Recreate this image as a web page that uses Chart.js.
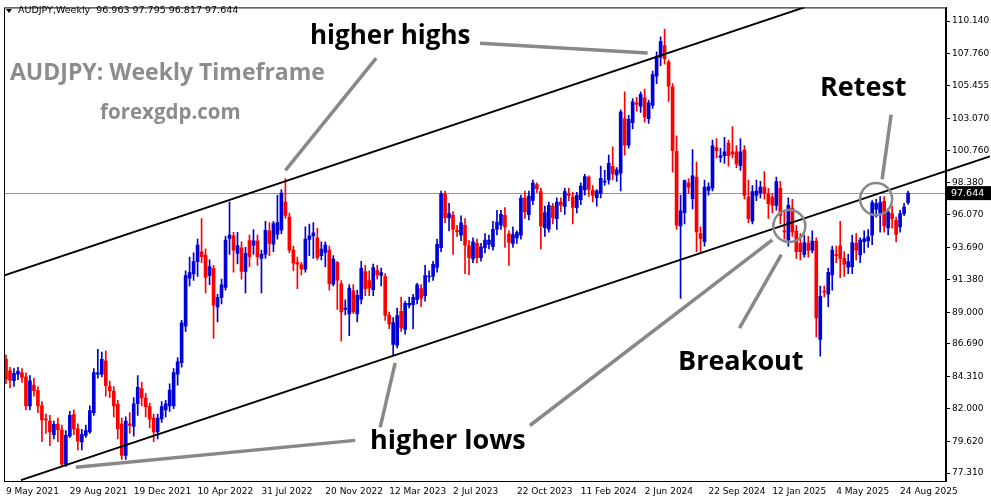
<!DOCTYPE html>
<html><head><meta charset="utf-8">
<script src="https://cdn.jsdelivr.net/npm/chart.js@4/dist/chart.umd.min.js"></script>
<style>html,body{margin:0;padding:0;background:#fff}#wrap{width:991px;height:501px}</style>
</head><body><div id="wrap"><canvas id="c"></canvas></div>
<script>
const tickLabels = ["9 May 2021","29 Aug 2021","19 Dec 2021","10 Apr 2022","31 Jul 2022","20 Nov 2022","12 Mar 2023","2 Jul 2023","22 Oct 2023","11 Feb 2024","2 Jun 2024","22 Sep 2024","12 Jan 2025","4 May 2025","24 Aug 2025"];
const tickStep = 16;
const slots = 236;
const yTicks = [77.310,79.620,82.000,84.310,86.690,89.000,91.380,93.690,96.070,98.380,100.760,103.070,105.455,107.760,110.140];
const lastPrice = 97.644;

const O = [85.58,84.74,84.02,84.5,84.6,84.3,82.2,83.7,83.3,82.2,81.2,81.1,80.1,80.85,80.46,77.96,80.0,81.57,80.53,79.57,80.05,80.3,81.7,84.5,84.5,85.46,83.6,83.25,82.3,80.9,78.6,80.9,80.7,82.35,83.45,82.77,82.14,81.3,80.3,81.25,81.9,82.2,82.2,84.5,85.34,87.98,91.47,91.78,92.67,93.39,93.15,91.66,92.19,89.38,90.07,90.8,94.35,94.54,93.27,93.68,
91.95,94.2,93.87,94.18,92.9,93.2,94.9,93.94,94.66,94.95,
97.0,95.91,93.51,92.6,92.43,92.12,94.28,94.54,94.4,93.1,
93.34,93.51,91.04,92.6,91.06,89.2,88.87,90.55,88.87,89.95,
91.95,91.3,90.63,92.02,91.66,91.59,88.78,86.66,86.61,89.06,
87.74,89.5,89.55,89.9,90.72,90.2,91.55,91.59,92.24,93.68,
97.59,95.84,96.03,94.95,94.59,95.31,93.82,92.86,93.99,92.96,
93.68,93.92,93.75,95.02,95.31,96.03,94.69,93.99,94.4,94.59,
97.28,96.08,97.12,98.27,97.76,95.14,95.02,96.71,95.79,96.99,
96.68,97.6,97.36,96.59,97.16,97.88,98.8,97.84,97.31,97.6,
98.44,98.6,99.59,98.97,99.09,103.05,101.13,102.76,104.2,103.96,
104.57,103.05,104.01,106.13,107.52,108.36,107.16,105.36,100.67,95.26,
96.23,98.37,97.24,98.8,94.71,94.11,97.84,98.0,100.96,100.24,
100.36,101.27,100.65,100.65,99.64,100.79,97.36,95.6,97.48,97.67,
98.08,97.6,97.36,96.75,98.0,94.9,94.23,96.56,94.88,93.99,
93.2,93.99,93.51,94.16,87.02,90.5,90.31,91.71,93.15,93.82,
92.91,92.26,92.31,93.99,93.15,94.11,94.18,94.59,96.47,96.23,
97.04,95.12,96.15,95.67,95.19,96.15,96.963];
const C = [84.14,84.07,84.55,84.7,84.26,82.2,84.02,83.3,82.2,81.18,81.18,80.3,80.85,80.46,77.96,80.05,81.5,80.53,79.64,80.12,80.41,81.85,84.62,84.6,85.58,83.66,83.3,82.2,80.53,78.6,81.1,80.77,82.35,83.54,82.77,82.14,81.25,80.3,81.3,82.14,82.35,83.35,84.62,85.4,88.22,91.66,91.88,92.67,93.87,93.03,91.52,92.31,89.5,90.07,90.99,94.23,94.59,93.51,93.82,91.95,
93.27,93.03,94.18,93.03,93.2,94.95,93.99,95.43,95.5,97.64,
96.03,93.51,92.55,92.48,92.14,94.3,94.54,94.76,92.96,93.58,
93.87,91.06,92.86,91.32,89.02,89.3,90.75,89.02,90.22,92.19,
90.7,90.75,92.24,91.7,91.88,88.78,88.15,88.25,88.75,87.86,
89.64,89.64,90.07,90.99,90.02,91.66,91.59,92.48,93.92,97.59,
95.86,96.15,95.0,94.85,95.48,93.87,92.96,94.11,92.96,93.75,
94.23,94.23,95.02,95.55,96.1,95.19,94.06,94.64,94.78,97.28,
96.27,97.43,98.37,97.96,95.26,96.23,96.76,95.84,96.99,96.76,
97.76,97.48,96.61,97.48,98.15,98.85,97.91,97.48,97.79,98.72,
98.51,99.81,99.04,99.33,103.53,101.13,103.0,104.28,104.09,104.81,
103.17,104.2,106.25,107.57,108.65,107.4,105.41,100.72,95.31,96.35,
98.56,98.08,98.92,94.83,94.35,98.08,98.1,101.08,100.72,100.36,
100.65,100.36,100.48,99.76,100.65,97.48,95.79,97.76,97.79,98.08,
97.6,96.88,96.75,98.49,96.03,94.83,96.75,94.83,93.39,93.39,
94.06,93.51,94.16,88.58,90.15,90.46,91.9,93.51,93.1,92.91,
92.48,92.67,94.06,93.51,94.23,94.35,94.47,96.95,96.88,96.95,
95.26,96.27,95.79,94.64,96.15,96.63,97.644];
const H = [85.9,85.0,84.9,85.0,84.9,84.6,84.4,84.2,83.6,82.5,
81.6,81.5,81.1,81.3,80.8,80.4,81.8,81.9,80.9,80.5,
80.8,82.2,84.9,86.3,86.1,86.2,84.0,83.6,82.6,81.3,
81.4,81.7,82.8,84.4,83.9,83.1,82.4,81.6,81.6,82.5,
82.6,83.8,84.9,85.7,88.4,92.0,93.0,93.3,94.3,95.8,
93.6,92.8,92.4,90.3,91.4,94.5,97.0,94.8,94.8,94.1,
93.7,94.6,95.0,94.6,93.5,95.6,95.5,95.6,97.5,97.9,
98.7,96.2,93.8,93.0,92.6,95.2,95.4,95.5,95.1,94.1,
94.1,93.8,93.1,92.7,91.3,89.9,91.0,91.0,90.6,92.7,
92.4,92.0,92.5,92.4,92.2,91.8,89.0,88.6,89.3,90.1,
89.8,90.1,90.3,91.1,91.0,92.4,92.0,92.7,94.3,97.8,
97.8,96.9,96.3,95.3,96.0,95.8,94.2,94.4,94.3,94.0,
94.7,94.6,95.6,96.4,96.4,96.6,94.9,95.2,94.9,97.5,
97.8,97.8,98.6,98.4,98.0,96.7,97.0,96.9,97.3,97.3,
98.0,98.0,97.7,97.7,98.4,99.0,98.9,98.2,97.9,99.6,
99.3,100.4,101.0,99.5,103.7,105.0,103.3,104.5,104.6,105.0,
105.2,104.4,106.5,107.9,109.0,109.55,107.3,105.6,101.8,97.5,
98.6,98.7,100.8,99.9,95.2,98.6,98.4,101.5,101.6,100.9,
101.7,101.5,102.47,101.1,101.6,101.1,98.6,98.2,98.6,98.5,
99.2,98.0,97.6,98.8,98.5,96.4,97.3,97.2,95.3,94.7,
94.6,94.5,94.9,94.4,90.9,90.9,92.2,93.8,93.8,95.6,
93.4,93.2,94.6,94.7,94.4,94.9,95.0,97.1,97.2,97.4,
97.4,96.5,96.7,95.9,96.4,96.9,97.795];
const L = [83.8,83.5,83.6,84.1,83.9,81.9,81.9,82.9,81.7,79.6,
80.2,79.3,79.8,79.6,77.8,77.8,79.9,80.1,79.0,79.0,
79.9,80.2,81.5,84.2,84.3,82.9,82.8,81.4,79.8,78.3,
78.3,80.2,80.0,81.5,82.2,81.4,80.6,79.6,79.8,81.0,
81.4,81.8,82.0,83.7,85.0,87.6,90.9,91.3,91.6,92.6,
90.4,91.0,87.1,88.3,89.6,90.6,93.2,91.9,92.5,91.4,
90.4,92.3,93.2,92.4,90.4,92.9,93.1,93.4,94.3,94.7,
95.8,93.3,92.0,90.7,91.7,91.9,93.1,92.9,92.8,92.8,
92.3,90.6,90.9,89.2,86.9,88.8,87.3,88.9,88.3,89.6,
90.2,90.2,90.2,91.4,90.9,88.4,87.8,85.9,86.4,87.6,
87.4,89.3,87.8,89.6,89.4,89.8,91.2,91.3,91.9,93.4,
95.5,94.9,93.2,94.5,94.2,91.8,91.7,92.6,92.6,92.7,
93.3,93.6,93.5,94.6,95.0,93.7,92.4,93.7,94.0,94.3,
95.8,95.7,96.8,97.7,93.6,94.5,94.8,95.4,95.0,96.3,
96.1,97.1,95.4,96.2,96.8,97.5,97.4,97.0,96.7,97.3,
98.2,98.3,98.6,98.5,97.8,100.4,100.9,102.3,103.6,103.5,
102.8,102.7,103.8,105.6,106.9,107.0,104.3,99.16,95.0,90.0,
95.4,97.6,96.5,93.4,93.4,93.8,97.5,97.8,100.2,99.9,
99.8,99.6,100.2,99.5,99.3,97.2,95.5,95.4,97.1,97.3,
97.2,95.8,96.2,96.4,95.4,94.3,93.8,94.5,92.9,92.8,
93.0,93.0,93.3,87.2,85.8,90.1,89.4,90.6,92.6,91.5,
91.6,91.8,91.8,92.8,92.6,93.3,93.7,93.9,95.9,94.8,
94.8,94.6,95.1,94.1,94.8,96.0,96.817];

// channel lines and annotations: [index, price] endpoints
const upperChannel = [[-1.25,91.59],[200,111.13]];
const lowerChannel = [[3.75,76.80],[246.5,100.31]];
const pointerLines = [
  [[118.75,108.53],[160.75,107.81]],
  [[92.75,107.45],[70,99.3]],
  [[17.5,77.74],[87.5,79.69]],
  [[93.75,80.63],[97.5,85.32]],
  [[131.25,80.77],[192,94.25]],
  [[183.75,87.84],[194.25,93.17]],
  [[219.5,98.65],[221.75,103.34]]
];
const circles = [[196.25,95.26],[218,97.21]];
const texts = [
  {t:"higher highs", x:310, y:37, size:26, color:"#000"},
  {t:"AUDJPY: Weekly Timeframe", x:10, y:73, size:23, color:"#8c8c8c"},
  {t:"forexgdp.com", x:100, y:113, size:20.5, color:"#8c8c8c"},
  {t:"Retest", x:820, y:88, size:27, color:"#000"},
  {t:"Breakout", x:678, y:362, size:27, color:"#000"},
  {t:"higher lows", x:370, y:441, size:27, color:"#000"}
];
const header = "AUDJPY,Weekly  96.963 97.795 96.817 97.644";

const categories = Array.from({length:slots},(_,i)=> i%tickStep===0 && tickLabels[i/tickStep] ? tickLabels[i/tickStep] : "");
const BLUE="#0000d8", RED="#ff0000";
const cols = O.map((o,i)=> C[i]>=o ? BLUE : RED);

const overlay = {
  id:'overlay',
  beforeDatasetsDraw(chart){
    const {ctx, chartArea:a, scales:{x,y}} = chart;
    ctx.save();
    const py = y.getPixelForValue(lastPrice);
    ctx.strokeStyle="#8898a8"; ctx.lineWidth=1;
    ctx.beginPath(); ctx.moveTo(a.left,Math.round(py)+0.5); ctx.lineTo(a.right,Math.round(py)+0.5); ctx.stroke();
    ctx.restore();
  },
  afterDatasetsDraw(chart){
    const {ctx, chartArea:a, scales:{x,y}} = chart;
    const X = i => x.getPixelForValue(0) + i*(x.getPixelForValue(1)-x.getPixelForValue(0));
    const line = (p,q)=>{ctx.beginPath(); ctx.moveTo(X(p[0]),y.getPixelForValue(p[1])); ctx.lineTo(X(q[0]),y.getPixelForValue(q[1])); ctx.stroke();};
    ctx.save();
    ctx.strokeStyle="#000"; ctx.lineWidth=2;
    ctx.save(); ctx.beginPath(); ctx.rect(a.left,a.top,a.right-a.left,a.bottom-a.top); ctx.clip();
    line(upperChannel[0],upperChannel[1]);
    ctx.restore();
    line(lowerChannel[0],lowerChannel[1]);
    ctx.strokeStyle="#888"; ctx.lineWidth=3.5;
    pointerLines.forEach(l=>line(l[0],l[1]));
    ctx.lineWidth=2.5;
    circles.forEach(c=>{ctx.beginPath(); ctx.arc(X(c[0]),y.getPixelForValue(c[1]),16,0,Math.PI*2); ctx.stroke();});
    ctx.strokeStyle="#000"; ctx.lineWidth=1;
    ctx.strokeRect(a.left+0.5,a.top+0.5,a.right-a.left-1,a.bottom-a.top);
    ctx.textBaseline="middle"; ctx.textAlign="left";
    texts.forEach(t=>{ctx.fillStyle=t.color; ctx.font=`bold ${t.size}px "Open Sans"`; ctx.fillText(t.t,t.x,t.y);});
    ctx.fillStyle="#000"; ctx.font='9.5px "DejaVu Sans"'; ctx.fillText(header,18,11);
    ctx.beginPath(); ctx.moveTo(6,9); ctx.lineTo(12,9); ctx.lineTo(9,13); ctx.closePath(); ctx.fill();
    const py = y.getPixelForValue(lastPrice);
    ctx.fillStyle="#000"; ctx.fillRect(a.right+1,py-7,44,14);
    ctx.fillStyle="#fff"; ctx.font='9.5px "DejaVu Sans"'; ctx.fillText(lastPrice.toFixed(3),a.right+5,py+0.5);
    ctx.restore();
  }
};

new Chart(document.getElementById('c'),{
  type:'bar',
  data:{labels:categories, datasets:[
    {data:H.map((h,i)=>[L[i],h]), backgroundColor:cols, barThickness:1, grouped:false, order:2},
    {data:O.map((o,i)=>[o,C[i]]), backgroundColor:cols, barThickness:3, minBarLength:1, grouped:false, order:1}
  ]},
  options:{
    responsive:true, maintainAspectRatio:false, animation:false, devicePixelRatio:1,
    layout:{padding:{left:4,top:3,right:0,bottom:0}},
    plugins:{legend:{display:false}, tooltip:{enabled:false}},
    scales:{
      x:{offset:true, grid:{display:false, drawTicks:true, tickLength:4, color:'#000'}, border:{display:true,color:'#000'},
         afterFit:s=>{s.height=20;},
         ticks:{autoSkip:false, maxRotation:0, align:'start', color:'#000', padding:1, font:{family:'DejaVu Sans', size:9},
           callback:(v,i)=>categories[i]}},
      y:{position:'right', min:76.74, max:111.13,
         afterBuildTicks:s=>{s.ticks=yTicks.map(v=>({value:v}));},
         afterFit:s=>{s.width=45;},
         grid:{drawOnChartArea:false, tickLength:4, color:'#000'}, border:{color:'#000'},
         ticks:{color:'#000', padding:2, font:{family:'DejaVu Sans', size:9}, callback:v=>Number(v).toFixed(3)}}
    }
  },
  plugins:[overlay]
});
</script></body></html>
